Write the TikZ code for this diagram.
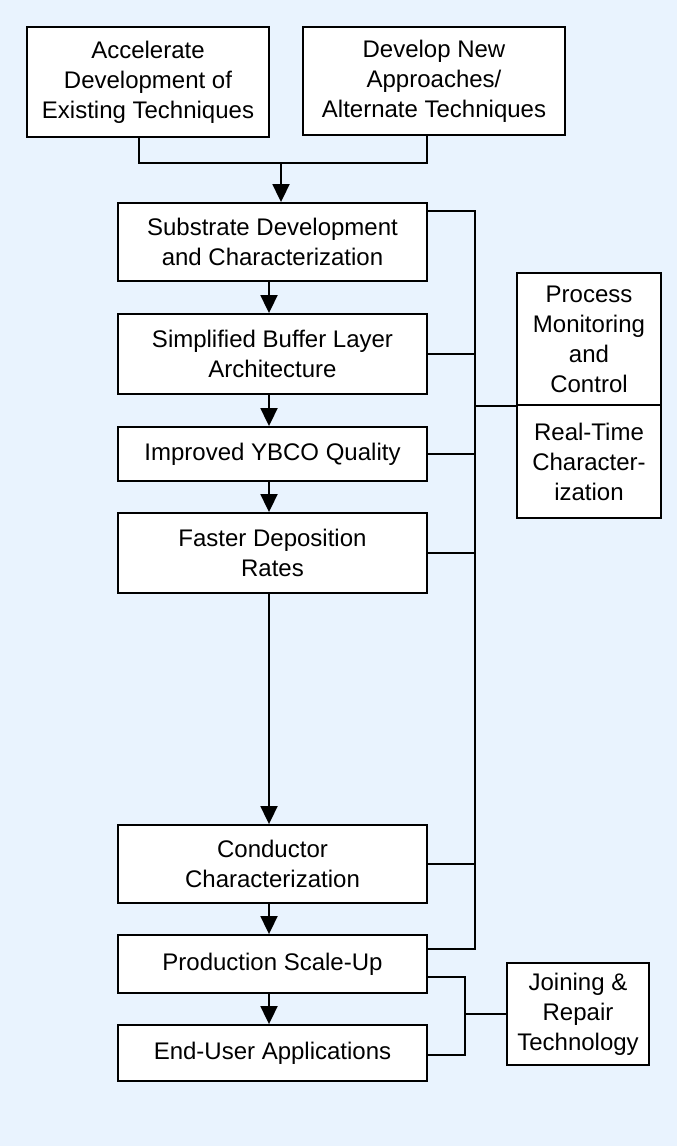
\documentclass[tikz,border=0pt]{standalone}
\usepackage{fontspec}
\setmainfont{Liberation Sans}
\usepackage{xcolor}
\usetikzlibrary{arrows.meta}
\definecolor{bgblue}{RGB}{233,243,254}

\begin{document}
\begin{tikzpicture}[x=0.75pt,y=-0.75pt,line width=1.4pt,
  >={Triangle[length=13.5pt,width=12.75pt]},
  box/.style={draw,fill=white,line width=1.4pt,align=center,inner sep=0pt,
    font=\fontsize{18}{22.5}\selectfont},
  wh/.style 2 args={minimum width=#1*0.75pt,minimum height=#2*0.75pt}]
\fill [bgblue] (0,0) rectangle (677,1146);

\node [box,wh={242}{110}] (acc) at (148,82) {Accelerate\\Development of\\Existing Techniques};
\node [box,wh={262}{108}] (dev) at (434,81) {Develop New\\Approaches/\\Alternate Techniques};
\node [box,wh={309}{78}] (sub) at (272.5,242) {Substrate Development\\and Characterization};
\node [box,wh={309}{80}] (buf) at (272.5,354) {Simplified Buffer Layer\\Architecture};
\node [box,wh={309}{54}] (ybco) at (272.5,454) {Improved YBCO Quality};
\node [box,wh={309}{80}] (fast) at (272.5,553) {Faster Deposition\\Rates};
\node [box,wh={309}{78}] (cond) at (272.5,864) {Conductor\\Characterization};
\node [box,wh={309}{58}] (prod) at (272.5,964) {Production Scale-Up};
\node [box,wh={309}{56}] (user) at (272.5,1053) {End-User Applications};
\node [box,wh={144}{132}] (proc) at (589,339) {Process\\Monitoring\\and\\Control};
\node [box,wh={144}{113}] (rt) at (589,461.5) {Real-Time\\Character-\\ization};
\node [box,wh={142}{102}] (join) at (578,1014) {Joining \&\\Repair\\Technology};

\coordinate (col) at (269,0);
\coordinate (ja) at (139,163);
\coordinate (jm) at (281,163);
\coordinate (jd) at (427,163);
\coordinate (bt) at (475,211);
\coordinate (bb) at (475,949);
\coordinate (jt) at (465,977);
\coordinate (jb) at (465,1055);

\draw (ja |- acc.south) -- (ja) -- (jd) -- (jd |- dev.south);
\draw [->] (jm) -- (jm |- sub.north);
\draw [->] (sub.south -| col) -- (buf.north -| col);
\draw [->] (buf.south -| col) -- (ybco.north -| col);
\draw [->] (ybco.south -| col) -- (fast.north -| col);
\draw [->] (fast.south -| col) -- (cond.north -| col);
\draw [->] (cond.south -| col) -- (prod.north -| col);
\draw [->] (prod.south -| col) -- (user.north -| col);

\draw (bt -| sub.east) -- (bt) -- (bb) -- (bb -| prod.east);
\draw (buf.east) -- (buf.east -| bt);
\draw (ybco.east) -- (ybco.east -| bt);
\draw (fast.east) -- (fast.east -| bt);
\draw (cond.east) -- (cond.east -| bt);
\draw (proc.south west -| bt) -- (proc.south west);

\draw (jt -| prod.east) -- (jt) -- (jb) -- (jb -| user.east);
\draw (jt |- join.west) -- (join.west);

\end{tikzpicture}
\end{document}
